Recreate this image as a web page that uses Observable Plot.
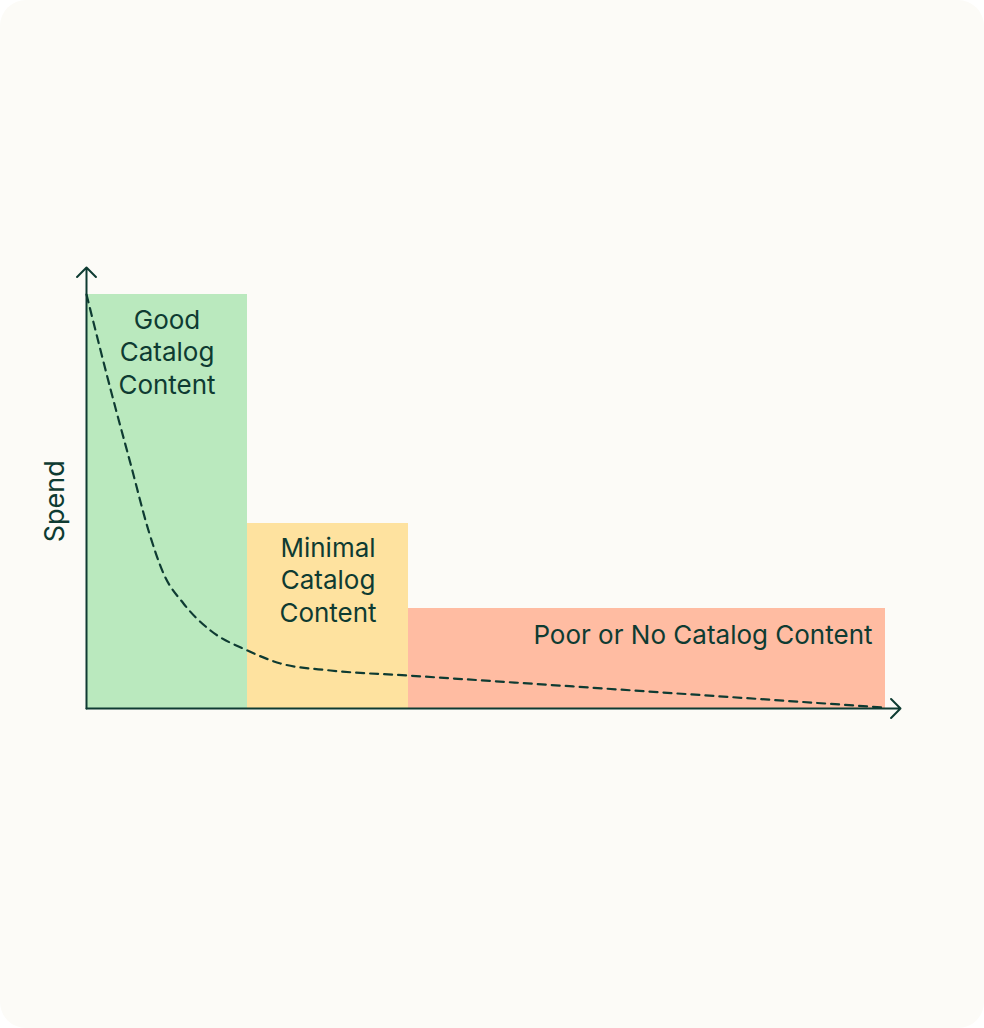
<!DOCTYPE html>
<html>
<head>
<meta charset="utf-8">
<script src="https://cdn.jsdelivr.net/npm/d3@7"></script>
<script src="https://cdn.jsdelivr.net/npm/@observablehq/plot@0.6"></script>
<style>
  html, body { margin: 0; padding: 0; background: #ffffff; }
  #card {
    width: 984px; height: 1028px;
    background: #fcfbf7;
    border-radius: 26px;
    overflow: hidden;
    position: relative;
  }
  #card svg { display: block; background: transparent; }
</style>
</head>
<body>
<div id="card"></div>
<script>
// Segments of the catalog (x = share of catalog, y = spend)
const categories = ["Good\nCatalog\nContent", "Minimal\nCatalog\nContent", "Poor or No Catalog Content"];
const xStart = [0, 161, 322];
const xEnd = [161, 322, 799];
const spend = [414, 185, 100];
const fills = ["#bae9be", "#fee29f", "#ffbca2"];

// Dashed spend curve
const curveX = [0, 27, 44, 62, 77, 97, 124, 161, 194, 244, 321, 797];
const curveY = [414, 308, 245, 178, 135, 105, 78, 58, 45, 38, 33, 1];

// Axis extents
const xAxisEnd = 814;
const yAxisEnd = 441;

const ink = "#0e3b32";

const bars = categories.map((c, i) => ({label: c, x1: xStart[i], x2: xEnd[i], y: spend[i], fill: fills[i]}));
const curve = curveX.map((x, i) => ({x, y: curveY[i]}));

const plot = Plot.plot({
  width: 984,
  height: 1028,
  margin: 0,
  style: {background: "transparent", fontFamily: "Inter, 'Noto Sans', sans-serif"},
  x: {domain: [0, xAxisEnd], range: [86, 900], axis: null},
  y: {domain: [0, yAxisEnd], range: [708, 267], axis: null},
  marks: [
    Plot.rectY(bars, {x1: "x1", x2: "x2", y1: 0, y2: "y", fill: "fill"}),
    Plot.line(curve, {x: "x", y: "y", stroke: ink, strokeWidth: 2.2, strokeDasharray: "8,6", curve: "monotone-x"}),
    Plot.arrow([{x1: 0, y1: 0, x2: 0, y2: yAxisEnd}], {x1: "x1", y1: "y1", x2: "x2", y2: "y2", stroke: ink, strokeWidth: 2, headAngle: 90, headLength: 10}),
    Plot.arrow([{x1: 0, y1: 0, x2: xAxisEnd, y2: 0}], {x1: "x1", y1: "y1", x2: "x2", y2: "y2", stroke: ink, strokeWidth: 2, headAngle: 90, headLength: 10}),
    Plot.text(bars.slice(0, 1), {
      x: d => (d.x1 + d.x2) / 2, y: "y", text: "label",
      lineAnchor: "top", dy: 11, fontSize: 26, lineHeight: 1.25, fill: ink, textAnchor: "middle"
    }),
    Plot.text(bars.slice(1, 2), {
      x: d => (d.x1 + d.x2) / 2, y: "y", text: "label",
      lineAnchor: "top", dy: 10, fontSize: 26, lineHeight: 1.25, fill: ink, textAnchor: "middle"
    }),
    Plot.text(bars.slice(2), {
      x: "x2", y: "y", text: "label",
      lineAnchor: "top", dy: 17, dx: -13, fontSize: 26, fill: ink, textAnchor: "end", letterSpacing: -0.2
    }),
    Plot.text(["Spend"], {
      x: 0, y: yAxisEnd * 0.47, text: d => d, rotate: -90, dx: -31,
      fontSize: 27, fill: ink, textAnchor: "middle"
    })
  ]
});
document.getElementById("card").appendChild(plot);
</script>
</body>
</html>
